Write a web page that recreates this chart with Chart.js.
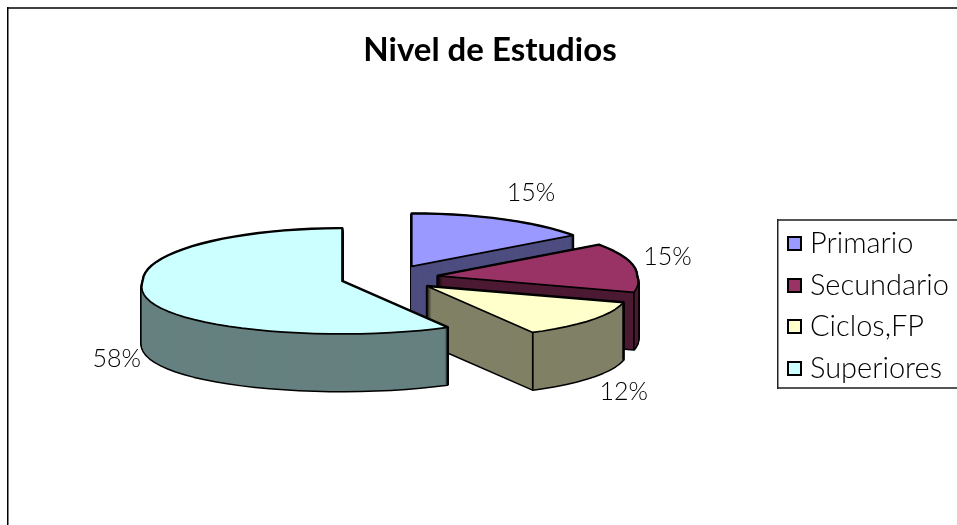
<!DOCTYPE html>
<html>
<head>
<meta charset="utf-8">
<title>Nivel de Estudios</title>
<script src="https://cdn.jsdelivr.net/npm/chart.js@4/dist/chart.umd.min.js"></script>
<style>
  html, body { margin: 0; padding: 0; background: #fff; overflow: hidden; }
  canvas { display: block; }
</style>
</head>
<body>
<canvas id="myChart" width="957" height="525"></canvas>
<script>
const chartTitle = "Nivel de Estudios";
const categories = ["Primario", "Secundario", "Ciclos,FP", "Superiores"];
const values = [15, 15, 12, 58];
const topColors = ["#9999FF", "#993366", "#FFFFCC", "#CCFFFF"];
const wallColors = ["#4D4D80", "#4D1A33", "#808066", "#668080"];

// layout of the fake 3D pie
const tilt = 0.265;
const depth = 57;
const explode = 49;
const perspective = 0.115;
const arcStep = Math.PI / 45;
const labelNudgeX = [29, 33, 32, -27];
const labelNudgeY = [-27, -11, 72, 65];
const legendRowY = [244, 286, 327, 369];
const fontName = "Lato, 'Open Sans', sans-serif";

function sliceGeom(arc) {
    let p = arc.getProps(["x", "y", "startAngle", "endAngle", "outerRadius"], true);
    let mid = (p.startAngle + p.endAngle) / 2;
    return {
        x: p.x + Math.cos(mid) * explode,
        y: p.y + Math.sin(mid) * explode * tilt,
        rx: p.outerRadius,
        ry: p.outerRadius * tilt,
        a0: p.startAngle,
        a1: p.endAngle,
        mid: mid
    };
}

// point on the rim, only the near side of the pie gets wider
function rimPoint(g, a) {
    let s = Math.sin(a);
    return {
        x: g.x + Math.cos(a) * g.rx * (1 + perspective * Math.max(s, 0)),
        y: g.y + s * g.ry
    };
}

function slicePath(ctx, g, shift) {
    ctx.beginPath();
    ctx.moveTo(g.x, g.y + shift);
    for (let a = g.a0; a < g.a1; a += arcStep) {
        let r = rimPoint(g, a);
        ctx.lineTo(r.x, r.y + shift);
    }
    let e = rimPoint(g, g.a1);
    ctx.lineTo(e.x, e.y + shift);
    ctx.closePath();
}

function drawSlice(ctx, arc, i) {
    let g = sliceGeom(arc);
    ctx.lineJoin = "round";

    // sweep the slice downwards: black silhouette first, wall colour on top of it
    ctx.strokeStyle = "#000";
    ctx.lineWidth = 3;
    for (let s = depth; s >= 0; s--) {
        slicePath(ctx, g, s);
        ctx.stroke();
    }
    ctx.fillStyle = wallColors[i];
    for (let s = depth; s >= 0; s--) {
        slicePath(ctx, g, s);
        ctx.fill();
    }

    // corners on the front half get a vertical edge
    ctx.lineWidth = 1.75;
    [g.a0, g.a1].forEach(function (a) {
        if (Math.sin(a) > 0) {
            let c = rimPoint(g, a);
            ctx.beginPath();
            ctx.moveTo(c.x, c.y);
            ctx.lineTo(c.x, c.y + depth);
            ctx.stroke();
        }
    });

    slicePath(ctx, g, 0);
    ctx.fillStyle = topColors[i];
    ctx.fill();
    ctx.stroke();
}

const pie3d = {
    id: "pie3d",
    beforeDatasetDraw: function (chart, args) {
        let ctx = chart.ctx;
        let arcs = chart.getDatasetMeta(args.index).data;
        ctx.save();
        arcs.forEach(function (arc, i) { drawSlice(ctx, arc, i); });
        ctx.restore();
        return false;
    },
    afterDraw: function (chart) {
        let ctx = chart.ctx;
        let arcs = chart.getDatasetMeta(0).data;
        let total = values.reduce(function (a, b) { return a + b; }, 0);
        ctx.save();

        // chart frame, only top and left show
        ctx.fillStyle = "#404040";
        ctx.fillRect(7, 7, 950, 2);
        ctx.fillStyle = "#000";
        ctx.fillRect(7, 7, 1.5, 518);

        ctx.fillStyle = "#000";
        ctx.textBaseline = "middle";
        ctx.textAlign = "center";
        ctx.font = "bold 33px " + fontName;
        ctx.fillText(chartTitle, 490, 50);

        // percent labels
        ctx.font = "300 25px " + fontName;
        arcs.forEach(function (arc, i) {
            let g = sliceGeom(arc);
            let r = rimPoint(g, g.mid);
            ctx.fillText(Math.round(values[i] / total * 100) + "%", r.x + labelNudgeX[i], r.y + labelNudgeY[i]);
        });

        // legend
        ctx.fillStyle = "#fff";
        ctx.fillRect(777, 220, 180, 168);
        ctx.fillStyle = "#555";
        ctx.fillRect(777, 219, 180, 2);
        ctx.fillRect(777, 387, 180, 2);
        ctx.fillStyle = "#222";
        ctx.fillRect(777, 219, 1.5, 170);
        ctx.textAlign = "left";
        ctx.font = "300 29px " + fontName;
        categories.forEach(function (name, i) {
            let y = legendRowY[i];
            ctx.fillStyle = topColors[i];
            ctx.strokeStyle = "#000";
            ctx.lineWidth = 2;
            ctx.fillRect(788, y - 7, 13, 13);
            ctx.strokeRect(788, y - 7, 13, 13);
            ctx.fillStyle = "#000";
            ctx.fillText(name, 810, y);
        });
        ctx.restore();
    }
};

let myChart = document.getElementById("myChart").getContext("2d");
let chart = new Chart(myChart, {
    type: "pie",
    data: {
        labels: categories,
        datasets: [{
            data: values,
            backgroundColor: topColors,
            radius: 199
        }]
    },
    options: {
        responsive: false,
        animation: false,
        rotation: 0,
        layout: { padding: { left: 0, right: 178, top: 31, bottom: 0 } },
        plugins: {
            legend: { display: false },
            title: { display: false },
            tooltip: { enabled: false }
        }
    },
    plugins: [pie3d]
});
</script>
</body>
</html>
